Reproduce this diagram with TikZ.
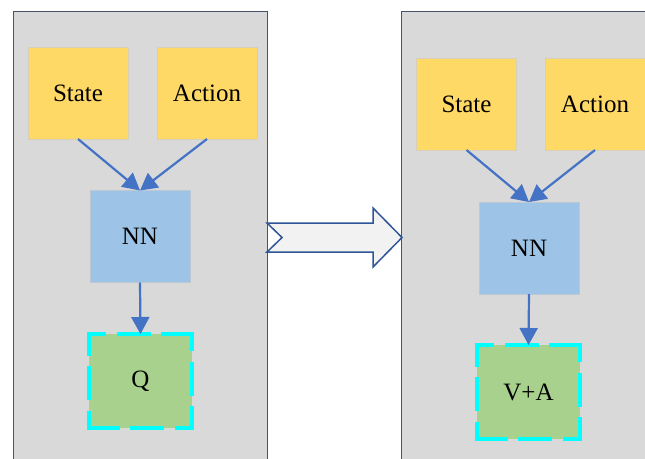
\documentclass[tikz,border=0pt]{standalone}
\usepackage{fontspec}
\setmainfont{Liberation Serif}
\usetikzlibrary{arrows.meta}

\definecolor{panelfill}{HTML}{D9D9D9}
\definecolor{paneledge}{HTML}{44546A}
\definecolor{inputfill}{HTML}{FFD966}
\definecolor{inputedge}{HTML}{D6D0B8}
\definecolor{netfill}{HTML}{9DC3E6}
\definecolor{netedge}{HTML}{BCC8D4}
\definecolor{outfill}{HTML}{A9D18E}
\definecolor{outedge}{HTML}{00FFFF}
\definecolor{linkcol}{HTML}{4472C4}
\definecolor{bigfill}{HTML}{F2F2F2}
\definecolor{bigedge}{HTML}{2F5597}

\begin{document}
\begin{tikzpicture}[x=1pt,y=-1pt,
  panel/.style={fill=panelfill,draw=paneledge,line width=1pt},
  basebox/.style={rectangle,inner sep=0pt,outer sep=0pt,
    font=\fontsize{25}{30}\selectfont},
  inputbox/.style={basebox,fill=inputfill,draw=inputedge,line width=0.8pt,
    minimum width=100pt,minimum height=92pt},
  netbox/.style={basebox,fill=netfill,draw=netedge,line width=0.8pt,
    minimum width=100pt,minimum height=92pt},
  outbox/.style={basebox,fill=outfill,
    minimum width=103pt,minimum height=94pt},
  % dashed cyan outline, drawn side by side so every corner gets a dash
  outedge/.style={draw=outedge,line width=3.2pt,line cap=rect,
    dash pattern=on 15pt off 15pt on 30pt off 14pt on 40pt},
  link/.style={draw=linkcol,line width=2.2pt,
    -{Triangle[length=17pt,width=18pt]}},
  bigarrow/.style={fill=bigfill,draw=bigedge,line width=1.5pt,line join=miter}
]
\clip (0,0) rectangle (645,458);
\fill[white] (0,0) rectangle (645,458);

% two panels
\path[panel] (13,11) rectangle (267,470);
\path[panel] (401,11) rectangle (660,470);

% left panel: plain Q network
\node[inputbox] (s1) at (78,93) {State};
\node[inputbox] (a1) at (207,93) {Action};
\node[netbox]   (n1) at (140,236.5) {NN};
\node[outbox]   (q1) at (140.5,381) {Q};
\draw[outedge] (q1.north west) -- (q1.north east);
\draw[outedge] (q1.north east) -- (q1.south east);
\draw[outedge] (q1.south east) -- (q1.south west);
\draw[outedge] (q1.south west) -- (q1.north west);

\draw[link] (s1.south) -- (n1.north);
\draw[link] (a1.south) -- (n1.north);
\draw[link] (n1.south) -- (q1.north);

% right panel: value plus advantage
\node[inputbox] (s2) at (466.5,104) {State};
\node[inputbox] (a2) at (595,104) {Action};
\node[netbox]   (n2) at (529,248) {NN};
\node[outbox]   (q2) at (528.5,392) {V+A};
\draw[outedge] (q2.north west) -- (q2.north east);
\draw[outedge] (q2.north east) -- (q2.south east);
\draw[outedge] (q2.south east) -- (q2.south west);
\draw[outedge] (q2.south west) -- (q2.north west);

\draw[link] (s2.south) -- (n2.north);
\draw[link] (a2.south) -- (n2.north);
\draw[link] (n2.south) -- (q2.north);

% notched block arrow between the panels
\path[bigarrow] (267,223) -- (373,223) -- (373,208) -- (402,237.5)
  -- (373,267) -- (373,252) -- (267,252) -- (282,237.5) -- cycle;
\end{tikzpicture}
\end{document}
